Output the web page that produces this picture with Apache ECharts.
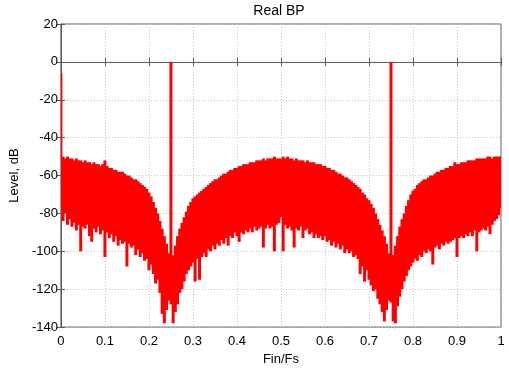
<!DOCTYPE html>
<html>
<head>
<meta charset="utf-8">
<script src="https://cdn.jsdelivr.net/npm/echarts@6/dist/echarts.min.js"></script>
<style>
html,body{margin:0;padding:0;background:#fff;}
#chart{width:509px;height:371px;}
</style>
</head>
<body>
<div id="chart"></div>
<script>
// Bin spacing of the spectrum (Fin/Fs)
const BIN_STEP = 0.005;

// Upper edge of the spectrum (dB), one value per bin, 0 .. 1
const upperDb = [
  -6,-50,-51,-50,-51,-51,-52,-51,-52,-52,
  -53,-52,-53,-53,-54,-53,-54,-54,-55,-54,
  -52,-55,-56,-56,-57,-57,-58,-58,-58,-59,
  -60,-60,-61,-62,-62,-63,-64,-65,-66,-67,
  -69,-71,-74,-77,-80,-84,-88,-92,-96,-101,
  0,-102,-97,-92,-88,-85,-82,-79,-76,-74,
  -72,-71,-70,-69,-68,-67,-66,-65,-64,-63,
  -62,-62,-61,-60,-59,-59,-58,-57,-57,-56,
  -56,-55,-55,-54,-54,-54,-53,-53,-53,-52,
  -52,-52,-51,-52,-51,-51,-51,-50,-51,-51,
  -51,-50,-51,-50,-51,-51,-52,-51,-52,-52,
  -52,-53,-52,-53,-53,-53,-54,-54,-54,-55,
  -55,-56,-56,-57,-57,-58,-59,-59,-60,-61,
  -61,-62,-63,-64,-65,-66,-67,-69,-70,-72,
  -73,-75,-77,-80,-83,-86,-89,-92,-96,-101,
  0,-102,-97,-92,-87,-83,-80,-76,-73,-70,
  -68,-67,-65,-64,-63,-62,-62,-61,-60,-60,
  -59,-58,-58,-57,-57,-56,-56,-55,-55,-53,
  -54,-54,-53,-53,-53,-52,-52,-52,-52,-51,
  -51,-51,-51,-51,-50,-50,-51,-50,-50,-50,
  -50
];

// Lower edge of the spectrum (dB), one value per bin, 0 .. 1
const lowerDb = [
  -77,-84,-80,-86,-83,-87,-85,-89,-86,-100,
  -87,-88,-86,-92,-95,-88,-90,-87,-91,-89,
  -103,-90,-93,-91,-95,-92,-97,-94,-96,-95,
  -108,-96,-98,-97,-102,-99,-103,-101,-105,-104,
  -110,-107,-112,-117,-115,-122,-133,-138,-131,-126,
  -128,-138,-132,-128,-122,-120,-116,-112,-110,-108,
  -106,-116,-104,-115,-103,-101,-103,-99,-100,-97,
  -99,-96,-97,-94,-96,-93,-97,-92,-93,-90,
  -92,-95,-90,-91,-89,-90,-88,-90,-87,-89,
  -88,-87,-98,-88,-86,-88,-87,-100,-86,-85,
  -82,-100,-86,-88,-87,-89,-98,-88,-89,-87,
  -93,-89,-88,-91,-90,-93,-91,-93,-92,-94,
  -92,-95,-94,-97,-95,-98,-96,-99,-97,-101,
  -99,-101,-100,-103,-102,-104,-112,-108,-116,-110,
  -115,-118,-121,-120,-125,-128,-132,-137,-131,-126,
  -127,-137,-138,-129,-124,-120,-116,-113,-110,-108,
  -106,-104,-105,-102,-103,-100,-101,-99,-100,-107,
  -98,-97,-99,-96,-97,-95,-96,-95,-94,-93,
  -103,-93,-92,-93,-91,-92,-90,-92,-89,-100,
  -90,-89,-88,-89,-87,-91,-86,-84,-83,-81,
  -77
];

// Tick labels
const xTickLabels = ['0','0.1','0.2','0.3','0.4','0.5','0.6','0.7','0.8','0.9','1'];
const yTickLabels = ['-140','-120','-100','-80','-60','-40','-20','0','20'];

const titleText = 'Real BP';
const xName = 'Fin/Fs';
const yName = 'Level, dB';

const data = upperDb.map((u, i) => [i * BIN_STEP, u, lowerDb[i]]);

const chart = echarts.init(document.getElementById('chart'), null, {renderer: 'canvas'});
const FONT = 'Liberation Sans, Arial, sans-serif';
const AX = '#5a5a5a';
const RED = '#ff0000';
const gridLine = {show: true, lineStyle: {color: '#c4c4c4', type: [1, 2], width: 1}};

chart.setOption({
  animation: false,
  backgroundColor: '#ffffff',
  title: {
    text: titleText,
    left: 279, top: 4, padding: 0, textAlign: 'center',
    textStyle: {fontFamily: FONT, fontSize: 14, fontWeight: 'normal', color: '#000'}
  },
  grid: {left: 59, right: 8, top: 24, bottom: 37, show: true, borderColor: AX, borderWidth: 1, backgroundColor: 'transparent'},
  xAxis: [{
    type: 'value', min: 0, max: 1, interval: 0.1,
    name: xName, nameLocation: 'middle', nameGap: 23,
    nameTextStyle: {fontFamily: FONT, fontSize: 13, color: '#000'},
    axisLine: {show: true, lineStyle: {color: AX}},
    axisTick: {show: true, inside: true, length: 4, lineStyle: {color: AX}},
    axisLabel: {margin: 8, fontFamily: FONT, fontSize: 13, color: '#000',
      formatter: v => xTickLabels[Math.round(v * 10)]},
    splitLine: gridLine
  }, {
    type: 'value', min: 0, max: 1, interval: 0.1, position: 'top',
    axisLine: {show: true, lineStyle: {color: AX}},
    axisTick: {show: true, inside: true, length: 4, lineStyle: {color: AX}},
    axisLabel: {show: false}, splitLine: {show: false}
  }],
  yAxis: [{
    type: 'value', min: -140, max: 20, interval: 20,
    name: yName, nameLocation: 'middle', nameGap: 22,
    nameTextStyle: {fontFamily: FONT, fontSize: 13, color: '#000'},
    axisLine: {show: true, lineStyle: {color: AX}},
    axisTick: {show: true, inside: true, length: 4, lineStyle: {color: AX}},
    axisLabel: {margin: 3, fontFamily: FONT, fontSize: 13, color: '#000',
      formatter: v => yTickLabels[Math.round((v + 140) / 20)]},
    splitLine: gridLine
  }, {
    type: 'value', min: -140, max: 20, interval: 20, position: 'right',
    axisLine: {show: true, lineStyle: {color: AX}},
    axisTick: {show: true, inside: true, length: 4, lineStyle: {color: AX}},
    axisLabel: {show: false}, splitLine: {show: false}
  }],
  series: [{
    type: 'custom',
    xAxisIndex: 0, yAxisIndex: 0,
    clip: true,
    silent: true,
    data: data,
    encode: {x: 0, y: [1, 2]},
    renderItem: function (params, api) {
      const x = api.value(0), u = api.value(1), l = api.value(2);
      const top = api.coord([x, u]);
      const bot = api.coord([x, l]);
      const w = api.size([BIN_STEP, 0])[0];
      const cs = params.coordSys;
      const x0 = Math.max(cs.x, top[0] - w / 2 - 0.4);
      const x1 = Math.min(cs.x + cs.width, top[0] + w / 2 + 0.4);
      const y0 = Math.max(cs.y, top[1]);
      return {
        type: 'rect',
        shape: {x: x0, y: y0, width: x1 - x0, height: bot[1] - y0},
        style: {fill: RED}
      };
    }
  }]
});
</script>
</body>
</html>
